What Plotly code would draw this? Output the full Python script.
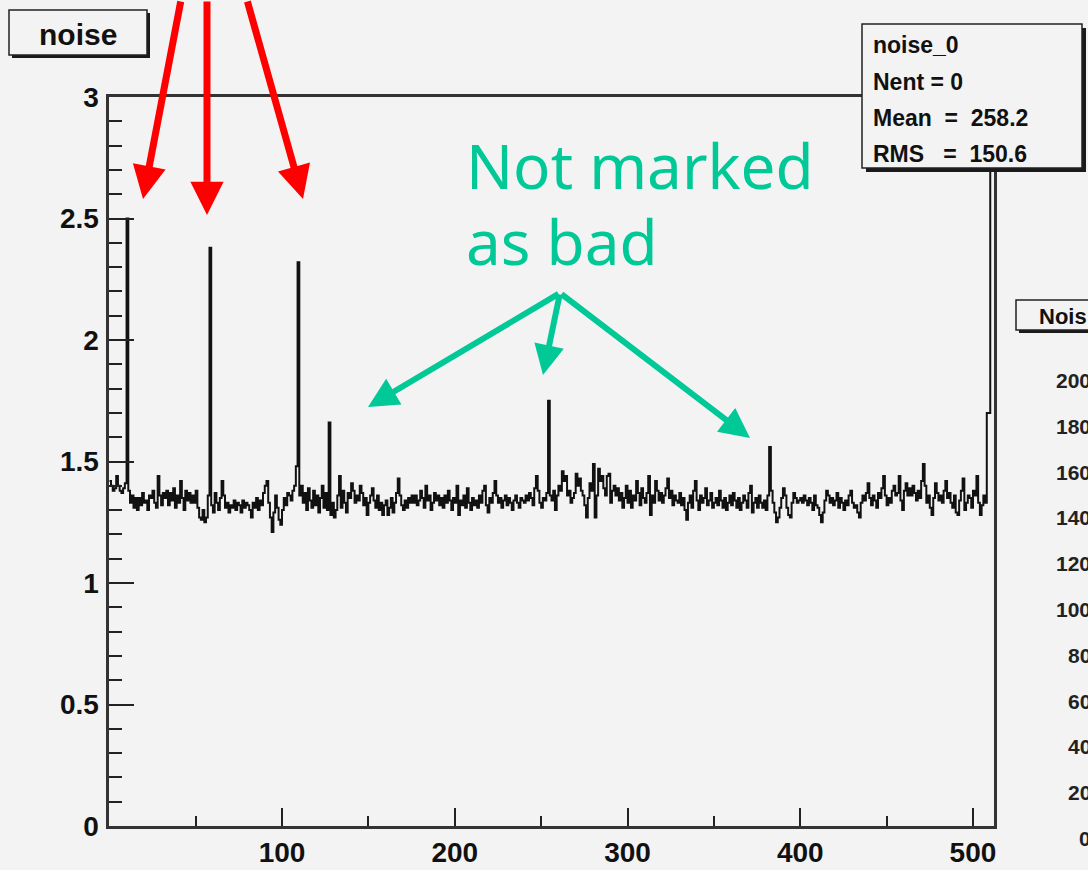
import plotly.graph_objects as go

W, H = 1088, 870

# ---------------- data ----------------
channels = list(range(512))
noise = [
    1.42,1.40,1.38,1.39,1.44,1.40,1.38,1.37,1.39,1.41,2.50,1.38,1.33,1.36,1.31,1.35,
    1.30,1.35,1.32,1.37,1.33,1.34,1.30,1.36,1.35,1.38,1.33,1.31,1.44,1.36,1.32,1.37,
    1.35,1.38,1.32,1.37,1.34,1.39,1.31,1.36,1.33,1.42,1.35,1.30,1.38,1.34,1.37,1.33,
    1.36,1.33,1.38,1.31,1.27,1.26,1.30,1.25,1.27,1.36,2.38,1.32,1.29,1.37,1.33,1.30,
    1.35,1.42,1.36,1.31,1.33,1.29,1.32,1.31,1.34,1.30,1.33,1.32,1.29,1.34,1.31,1.33,
    1.32,1.30,1.27,1.33,1.31,1.35,1.30,1.34,1.32,1.37,1.40,1.42,1.33,1.27,1.21,1.29,
    1.36,1.31,1.26,1.24,1.30,1.35,1.32,1.37,1.36,1.34,1.38,1.40,1.48,2.32,1.36,1.40,
    1.33,1.37,1.30,1.39,1.34,1.31,1.38,1.32,1.36,1.29,1.35,1.40,1.31,1.37,1.30,1.66,
    1.28,1.33,1.27,1.30,1.36,1.44,1.31,1.38,1.33,1.29,1.37,1.35,1.41,1.38,1.33,1.36,
    1.34,1.40,1.37,1.32,1.35,1.28,1.33,1.36,1.39,1.34,1.31,1.36,1.30,1.33,1.28,1.32,
    1.34,1.28,1.31,1.35,1.29,1.33,1.37,1.43,1.36,1.32,1.30,1.34,1.31,1.35,1.33,1.36,
    1.33,1.36,1.32,1.34,1.38,1.35,1.31,1.40,1.34,1.36,1.30,1.33,1.37,1.34,1.36,1.32,
    1.35,1.31,1.36,1.33,1.38,1.34,1.30,1.35,1.33,1.40,1.28,1.34,1.32,1.36,1.31,1.39,
    1.33,1.30,1.35,1.32,1.34,1.31,1.36,1.33,1.38,1.40,1.32,1.29,1.35,1.33,1.37,1.42,
    1.36,1.33,1.35,1.31,1.34,1.36,1.32,1.35,1.33,1.30,1.34,1.36,1.33,1.31,1.35,1.34,
    1.33,1.36,1.34,1.37,1.35,1.32,1.39,1.44,1.38,1.33,1.31,1.35,1.34,1.37,1.75,1.36,
    1.34,1.38,1.30,1.36,1.40,1.38,1.46,1.42,1.44,1.36,1.38,1.33,1.35,1.37,1.45,1.40,
    1.43,1.38,1.36,1.32,1.27,1.35,1.41,1.38,1.49,1.27,1.36,1.47,1.42,1.44,1.39,1.36,
    1.44,1.45,1.33,1.38,1.40,1.36,1.39,1.34,1.37,1.31,1.35,1.40,1.33,1.38,1.31,1.36,
    1.34,1.42,1.37,1.32,1.39,1.35,1.33,1.37,1.44,1.28,1.36,1.33,1.42,1.38,1.34,1.37,
    1.33,1.36,1.39,1.43,1.35,1.38,1.32,1.36,1.34,1.33,1.37,1.32,1.35,1.30,1.26,1.33,
    1.36,1.31,1.38,1.42,1.34,1.30,1.36,1.33,1.35,1.39,1.32,1.34,1.37,1.31,1.33,1.35,
    1.32,1.38,1.34,1.31,1.35,1.30,1.33,1.36,1.32,1.37,1.34,1.31,1.35,1.30,1.33,1.36,
    1.34,1.31,1.37,1.40,1.29,1.33,1.35,1.31,1.36,1.33,1.31,1.34,1.30,1.36,1.56,1.38,
    1.33,1.29,1.25,1.27,1.31,1.35,1.39,1.36,1.31,1.28,1.27,1.33,1.37,1.35,1.33,1.34,
    1.35,1.33,1.36,1.34,1.32,1.35,1.33,1.30,1.36,1.32,1.31,1.28,1.25,1.29,1.34,1.38,
    1.36,1.33,1.35,1.32,1.34,1.37,1.31,1.35,1.33,1.30,1.34,1.32,1.36,1.38,1.33,1.31,
    1.32,1.29,1.27,1.33,1.36,1.34,1.37,1.41,1.35,1.32,1.36,1.34,1.31,1.37,1.35,1.39,
    1.44,1.36,1.32,1.35,1.33,1.38,1.40,1.36,1.37,1.44,1.34,1.30,1.38,1.41,1.36,1.39,
    1.36,1.40,1.37,1.34,1.38,1.35,1.42,1.49,1.40,1.33,1.36,1.31,1.28,1.35,1.41,1.37,
    1.34,1.36,1.33,1.38,1.42,1.35,1.37,1.33,1.31,1.36,1.29,1.28,1.34,1.38,1.43,1.30,
    1.33,1.36,1.35,1.31,1.38,1.36,1.44,1.33,1.28,1.32,1.36,1.33,1.70,1.70,3.40,3.40,
]
x_tick_vals = [100, 200, 300, 400, 500]
x_tick_text = ["100", "200", "300", "400", "500"]
x_minor_vals = [50, 150, 250, 350, 450]
y_tick_vals = [0, 0.5, 1, 1.5, 2, 2.5, 3]
y_tick_text = ["0", "0.5", "1", "1.5", "2", "2.5", "3"]
title_text = "noise"
stats_lines = ["noise_0", "Nent = 0", "Mean  =  258.2", "RMS   =  150.6"]
right_title = "Nois"
right_ticks = [200, 180, 160, 140, 120, 100, 80, 60, 40, 20, 0]
note_lines = ["Not marked", "as bad"]

# ---------------- helpers ----------------
def px(x):
    return x / W

def py(y):
    return 1 - y / H

BG = "#f3f3f3"
NARROW = "Liberation Sans Narrow, Arial Narrow, Liberation Sans, Arial"
SANS = "Liberation Sans, Arial, Helvetica"
GREEN = "#00c896"
RED = "#ff0000"

x_edges = channels + [channels[-1] + 1]
y_steps = noise + [noise[-1]]

fig = go.Figure()
fig.add_trace(go.Scatter(
    x=x_edges, y=y_steps, mode="lines",
    line=dict(shape="hv", color="#111111", width=2),
    hoverinfo="skip", showlegend=False,
))

fig.update_layout(
    width=W, height=H,
    margin=dict(l=0, r=0, t=0, b=0, autoexpand=False),
    paper_bgcolor=BG, plot_bgcolor=BG,
    showlegend=False,
    xaxis=dict(
        domain=[px(109.3), px(993.7)], range=[0, 512], automargin=False,
        tickmode="array", tickvals=x_tick_vals, ticktext=x_tick_text,
        ticks="inside", ticklen=18, tickwidth=1.5, tickcolor="#222",
        minor=dict(tickmode="array", tickvals=x_minor_vals, ticks="inside",
                   ticklen=10, tickwidth=1.5, tickcolor="#222", showgrid=False),
        showgrid=False, zeroline=False,
        showline=True, mirror=True, linecolor="#333", linewidth=2.5,
        tickfont=dict(family=NARROW, size=28, color="#111", weight="bold"),
        ticklabelstandoff=0,
    ),
    yaxis=dict(
        domain=[py(826), py(97)], range=[0, 3], automargin=False,
        tickmode="array", tickvals=y_tick_vals, ticktext=y_tick_text,
        ticks="inside", ticklen=25, tickwidth=1.5, tickcolor="#222",
        minor=dict(dtick=0.1, tick0=0, ticks="inside", ticklen=13,
                   tickwidth=1.5, tickcolor="#222", showgrid=False),
        showgrid=False, zeroline=False,
        showline=True, mirror=True, linecolor="#333", linewidth=2.5,
        tickfont=dict(family=NARROW, size=28, color="#111", weight="bold"),
        ticklabelstandoff=2,
    ),
)

shapes = []
annotations = []

def box(x0, y0, x1, y1, shadow=4):
    shapes.append(dict(type="rect", xref="paper", yref="paper",
                       x0=px(x0 + shadow), x1=px(x1 + shadow),
                       y0=py(y1 + shadow), y1=py(y0 + shadow),
                       fillcolor="#1a1a1a", line=dict(width=0), layer="above"))
    shapes.append(dict(type="rect", xref="paper", yref="paper",
                       x0=px(x0), x1=px(x1), y0=py(y1), y1=py(y0),
                       fillcolor=BG, line=dict(color="#222", width=1.5), layer="above"))

# title box
box(9, 10, 147, 55, shadow=3)
annotations.append(dict(xref="paper", yref="paper", x=px(78), y=py(34),
                        text=title_text, showarrow=False, xanchor="center", yanchor="middle",
                        font=dict(family=NARROW, size=30, color="#111", weight="bold")))

# stats box
box(862, 24, 1082, 168, shadow=4)
for i, line in enumerate(stats_lines):
    annotations.append(dict(xref="paper", yref="paper", x=px(871), y=py(45 + 36.5 * i),
                            text=line.replace(" ", "\u00a0"), showarrow=False,
                            xanchor="left", yanchor="middle", height=30,
                            font=dict(family=SANS, size=23, color="#111", weight="bold")))

# partial right panel
box(1016, 300, 1110, 330, shadow=3)
annotations.append(dict(xref="paper", yref="paper", x=px(1037), y=py(316),
                        text=right_title, showarrow=False, xanchor="left", yanchor="middle",
                        font=dict(family=SANS, size=22, color="#111", weight="bold")))
for v in right_ticks:
    ypix = 838 - v * (458 / 200)
    annotations.append(dict(xref="paper", yref="paper", x=px(1093), y=py(ypix),
                            text=str(v), showarrow=False, xanchor="right", yanchor="middle",
                            height=26,
                            font=dict(family=SANS, size=21, color="#222", weight="bold")))

# red arrows (tails outside the top edge)
for (tx, ty), (sx, sy) in [((143, 199), (181, -10)), ((207, 215), (207, -10)), ((303, 199), (247, -10))]:
    annotations.append(dict(xref="paper", yref="paper", x=px(tx), y=py(ty),
                            ax=sx - tx, ay=sy - ty, text="", showarrow=True,
                            arrowhead=2, arrowsize=0.95, arrowwidth=7, arrowcolor=RED))

# green note text
for i, t in enumerate(note_lines):
    annotations.append(dict(xref="paper", yref="paper", x=px(464), y=py(165 + 76 * i),
                            text=t, showarrow=False, xanchor="left", yanchor="middle",
                            height=64,
                            font=dict(family="Noto Sans, DejaVu Sans", size=62, color=GREEN)))

# green arrows
ox, oy = 560, 293
for tx, ty in [(368, 407), (543, 375), (750, 438)]:
    annotations.append(dict(xref="paper", yref="paper", x=px(tx), y=py(ty),
                            ax=ox - tx, ay=oy - ty, text="", showarrow=True,
                            arrowhead=2, arrowsize=1.0, arrowwidth=6, arrowcolor=GREEN))

fig.update_layout(shapes=shapes, annotations=annotations)
fig.write_html("out.html")
